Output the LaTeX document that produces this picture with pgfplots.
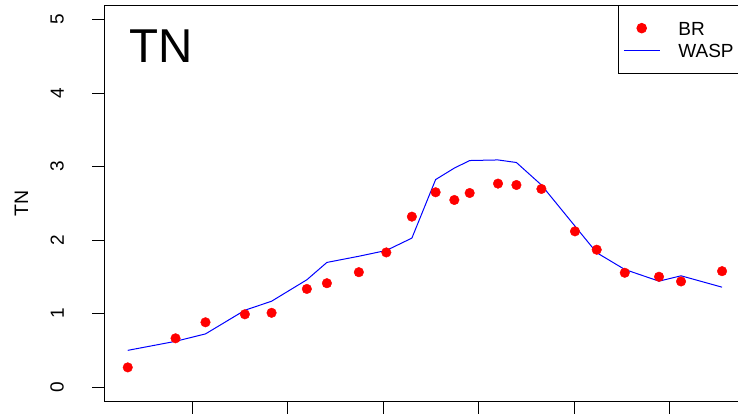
\documentclass[border=0pt]{standalone}
\usepackage{graphicx}
\usepackage{pgfplots}
\pgfplotsset{compat=1.18}
\usepackage{fontspec}
\setmainfont{Liberation Sans}
\begin{document}
\begin{tikzpicture}
\useasboundingbox (0pt,0pt) rectangle (738pt,-413pt);
\clip (0pt,0pt) rectangle (738pt,-413pt);
\begin{axis}[
  at={(104pt,-401.7pt)}, anchor=south west,
  scale only axis, width=641.8pt, height=396.7pt,
  xmin=0.072, xmax=6.801, ymin=-0.2, ymax=5.2,
  axis line style={line width=0.9pt, black},
  tick style={line width=0.9pt, black},
  tick align=outside, major tick length=12pt,
  xtick pos=bottom, ytick pos=left,
  xtick={1,2,3,4,5,6}, xticklabels={},
  ytick={0,1,2,3,4,5},
  yticklabels={\rotatebox{90}{0},\rotatebox{90}{1},\rotatebox{90}{2},\rotatebox{90}{3},\rotatebox{90}{4},\rotatebox{90}{5}},
  yticklabel style={anchor=east, inner sep=0pt, xshift=-28pt,
    font=\fontsize{19}{22}\selectfont},
  ylabel={TN},
  ylabel style={at={(axis description cs:-0.1184,0.5)}, anchor=base,
    inner sep=0pt, font=\fontsize{19.5}{22}\selectfont},
  legend style={at={(rel axis cs:1,1)}, anchor=north east, draw=black,
    line width=0.9pt, inner xsep=5.4pt, inner ysep=15.4pt, row sep=7.7pt,
    column sep=18.4pt,
    nodes={inner sep=0pt, text height=14.6pt, text depth=0pt},
    font=\fontsize{19}{22}\selectfont},
  legend cell align=left,
]
\addplot[only marks, mark=*, mark size=4.8pt, color=red, fill=red,
  legend image code/.code={\path[draw=none,fill=none] (0pt,0pt) rectangle (35.6pt,0pt);
    \fill[red] (17.8pt,0pt) circle (4.8pt);}]
coordinates {
(0.321,0.267) (0.822,0.663) (1.136,0.881) (1.549,0.990) (1.829,1.010)
(2.199,1.335) (2.409,1.413) (2.744,1.563) (3.032,1.832) (3.300,2.319)
(3.549,2.651) (3.745,2.546) (3.906,2.641) (4.203,2.769) (4.396,2.750)
(4.658,2.696) (5.010,2.119) (5.238,1.869) (5.532,1.555) (5.891,1.501)
(6.122,1.437) (6.552,1.577)
};
\addlegendentry{BR}
\addplot[color=blue, line width=1pt, no marks,
  legend image code/.code={\draw[blue, line width=1pt] (0pt,0pt) -- (35.6pt,0pt);}]
coordinates {
(0.321,0.499) (0.822,0.622) (1.136,0.723) (1.549,1.045) (1.829,1.168)
(2.199,1.46) (2.409,1.696) (2.744,1.78) (3.032,1.859) (3.300,2.027)
(3.549,2.824) (3.745,2.98) (3.906,3.083) (4.203,3.091) (4.396,3.056)
(4.658,2.75) (5.010,2.19) (5.238,1.828) (5.532,1.60) (5.891,1.441)
(6.122,1.514) (6.552,1.359)
};
\addlegendentry{WASP\hspace*{6.3pt}}
\end{axis}
\node[anchor=base west, inner sep=0pt, font=\fontsize{47.5}{50}\selectfont] at (129pt,-62.7pt) {TN};
\end{tikzpicture}
\end{document}
